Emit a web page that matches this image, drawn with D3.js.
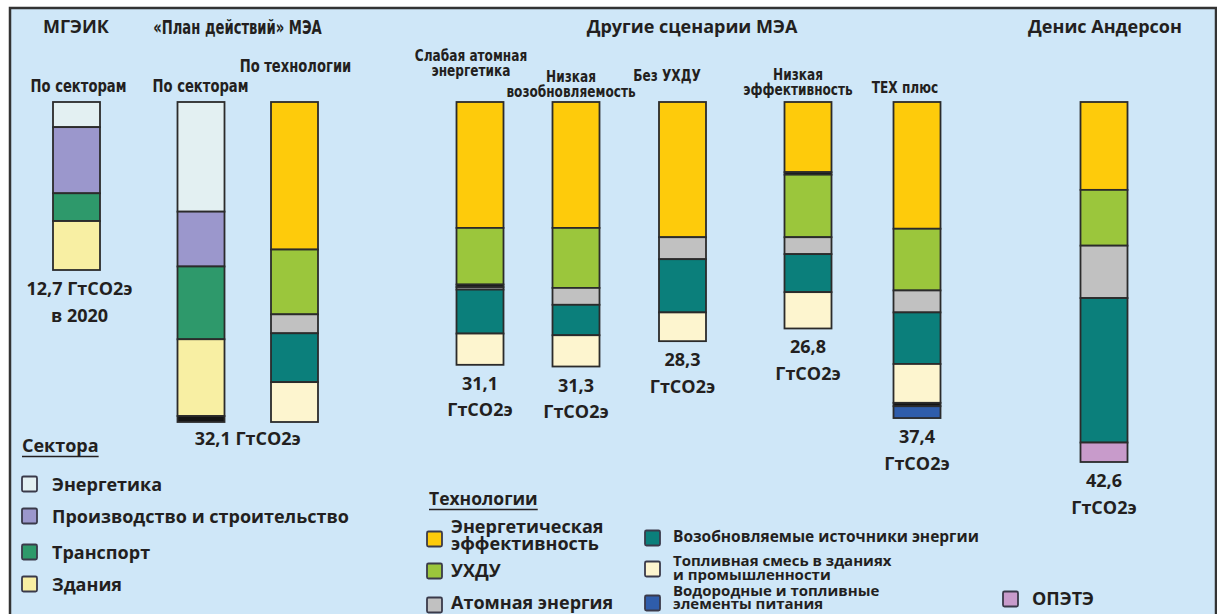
<!DOCTYPE html>
<html><head><meta charset="utf-8">
<script src="https://cdn.jsdelivr.net/npm/d3@7"></script>
<style>body{margin:0;background:#fff} svg{display:block}</style>
</head><body><div id="chart"></div>
<script>
// ================= DATA =================
const groupTitles = ["МГЭИК", "«План действий» МЭА", "Другие сценарии МЭА", "Денис Андерсон"];

const barIds = ["ipcc", "ieaSector", "ieaTech", "lowNuclear", "lowRenew", "noCCS", "lowEff", "texPlus", "anderson"];
const barGroups = ["ipcc", "ieaPlan", "ieaPlan", "other", "other", "other", "other", "other", "other"];
const barNames = [["По секторам"], ["По секторам"], ["По технологии"], ["Слабая атомная", "энергетика"],
  ["Низкая", "возобновляемость"], ["Без УХДУ"], ["Низкая", "эффективность"], ["ТЕХ плюс"], []];
const barTotals = [12.7, 32.1, 32.1, 31.1, 31.3, 28.3, 26.8, 37.4, 42.6];
const totalLabels = [["12,7 ГтCO2э", "в 2020"], [], [], ["31,1", "ГтCO2э"], ["31,3", "ГтCO2э"],
  ["28,3", "ГтCO2э"], ["26,8", "ГтCO2э"], ["37,4", "ГтCO2э"], ["42,6", "ГтCO2э"]];
const ieaPlanTotalLabel = ["32,1 ГтCO2э"];

// legend categories
const sectorKeys = ["energy", "industry", "transport", "buildings"];
const sectorNames = [["Энергетика"], ["Производство и строительство"], ["Транспорт"], ["Здания"]];
const techKeys = ["ee", "ccs", "nuc", "ren", "fuel", "h2"];
const techNames = [["Энергетическая", "эффективность"], ["УХДУ"], ["Атомная энергия"],
  ["Возобновляемые источники энергии"], ["Топливная смесь в зданиях", "и промышленности"],
  ["Водородные и топливные", "элементы питания"]];
const extraKeys = ["opete"];
const extraNames = [["ОПЭТЭ"]];
const sectorLegendTitle = "Сектора";
const techLegendTitle = "Технологии";

// stacked segments, top to bottom (GtCO2e) — "dark" = unlabelled black band
const ipccKeys = ["energy", "industry", "transport", "buildings"];
const ipccValues = [1.9, 5.0, 2.1, 3.7];
const ieaSectorKeys = ["energy", "industry", "transport", "buildings", "dark"];
const ieaSectorValues = [11.0, 5.5, 7.3, 7.7, 0.6];
const ieaTechKeys = ["ee", "ccs", "nuc", "ren", "fuel"];
const ieaTechValues = [14.8, 6.5, 1.9, 4.9, 4.0];
const lowNuclearKeys = ["ee", "ccs", "dark", "nuc", "ren", "fuel"];
const lowNuclearValues = [14.9, 6.7, 0.3, 0.3, 5.2, 3.7];
const lowRenewKeys = ["ee", "ccs", "nuc", "ren", "fuel"];
const lowRenewValues = [14.9, 7.1, 2.0, 3.6, 3.7];
const noCCSKeys = ["ee", "nuc", "ren", "fuel"];
const noCCSValues = [16.0, 2.6, 6.3, 3.4];
const lowEffKeys = ["ee", "dark", "ccs", "nuc", "ren", "fuel"];
const lowEffValues = [8.3, 0.3, 7.4, 2.0, 4.5, 4.3];
const texPlusKeys = ["ee", "ccs", "nuc", "ren", "fuel", "dark", "h2"];
const texPlusValues = [15.0, 7.3, 2.6, 6.1, 4.6, 0.4, 1.4];
const andersonKeys = ["ee", "ccs", "nuc", "ren", "opete"];
const andersonValues = [10.4, 6.6, 6.2, 17.1, 2.3];

const barKeys = [ipccKeys, ieaSectorKeys, ieaTechKeys, lowNuclearKeys, lowRenewKeys, noCCSKeys, lowEffKeys, texPlusKeys, andersonKeys];
const barValues = [ipccValues, ieaSectorValues, ieaTechValues, lowNuclearValues, lowRenewValues, noCCSValues, lowEffValues, texPlusValues, andersonValues];

// ================= STYLE / LAYOUT =================
const W = 1217, H = 614;
const colors = {
  energy: "#e3f0f2", industry: "#9b97cc", transport: "#2e996b", buildings: "#f8efa3", dark: "#141414",
  ee: "#fecb0b", ccs: "#9bc63c", nuc: "#c1c1c1", ren: "#0b7f7b", fuel: "#fdf5cf", h2: "#2f5dab", opete: "#c89bcb"
};
const ink = "#231f20";
const stroke = "#2b2b2b";
const bg = "#cfe7f8";
const barTop = 102, barW = 47;
const barCenters = [76.5, 201, 294.5, 480, 576, 682.5, 808, 917, 1104];
const xPos = d3.scaleOrdinal(barIds, barCenters);
const yScales = {
  ipcc: d3.scaleLinear().domain([0, 12.7]).range([0, 168]),
  ieaPlan: d3.scaleLinear().domain([0, 32.1]).range([0, 320]),
  other: d3.scaleLinear().domain([0, 42.6]).range([0, 360])
};
const fontMain = "'Open Sans', 'Noto Sans', sans-serif";
const fontNarrow = "'Liberation Sans Narrow', 'DejaVu Sans Condensed', sans-serif";

const svg = d3.select("#chart").append("svg").attr("width", W).attr("height", H);
svg.append("rect").attr("x", 10).attr("y", 8).attr("width", 1206).attr("height", 640)
  .attr("fill", bg).attr("stroke", "#333").attr("stroke-width", 2.5);

function lines(g, arr, x, y, lh, opts) {
  const holder = opts.sx ? g.append("g").attr("transform", `translate(${x},0) scale(${opts.sx},1) translate(${-x},0)`) : g;
  const t = holder.append("text").attr("x", x).attr("y", y).attr("fill", ink)
    .attr("font-family", opts.family).attr("font-size", opts.size).attr("font-weight", opts.weight)
    .attr("text-anchor", opts.anchor || "middle");
  arr.forEach((s, i) => t.append("tspan").attr("x", x).attr("y", y + i * lh).text(s));
  return t;
}

// group titles
lines(svg, [groupTitles[0]], 76, 33, 0, {family: fontMain, size: 18, weight: 700});
lines(svg, [groupTitles[1]], 237.5, 34, 0, {family: fontNarrow, size: 19, weight: 700, sx: 0.77});
lines(svg, [groupTitles[2]], 692, 33, 0, {family: fontMain, size: 18, weight: 700});
lines(svg, [groupTitles[3]], 1105, 33, 0, {family: fontMain, size: 18, weight: 700});

// bar name label layout (center x, first baseline)
const nameLayout = [[78.5, 92], [200.5, 92], [295.5, 72], [471, 61], [571, 82], [667, 81], [798, 80], [905, 93], [1104, 93]];
const nameOpts = {family: fontNarrow, size: 17, weight: 700, sx: 0.86};
const nameOptsSmall = {family: fontNarrow, size: 15.5, weight: 700, sx: 0.87};

const bars = svg.append("g");
barIds.forEach((id, i) => {
  const y = yScales[barGroups[i]];
  const vals = barValues[i];
  const ends = d3.cumsum(vals);
  const segs = vals.map((v, j) => ({key: barKeys[i][j], v, start: ends[j] - v}));
  const cx = xPos(id);
  const g = bars.append("g");
  g.selectAll("rect").data(segs).join("rect")
    .attr("x", cx - barW / 2)
    .attr("y", d => barTop + y(d.start))
    .attr("width", barW)
    .attr("height", d => y(d.v))
    .attr("fill", d => colors[d.key])
    .attr("stroke", stroke).attr("stroke-width", 1.8);
  const bottom = barTop + y(barTotals[i]);
  if (totalLabels[i].length)
    lines(svg, totalLabels[i], cx + (i === 0 ? 3 : 0), bottom + 25, 26.5, {family: fontMain, size: 18, weight: 700});
  if (barNames[i].length) {
    const o = (i >= 3) ? nameOptsSmall : nameOpts;
    lines(svg, barNames[i], nameLayout[i][0], nameLayout[i][1], 15.5, o);
  }
});
// IEA plan total label, centred between its two bars
{
  const cx = (xPos("ieaSector") + xPos("ieaTech")) / 2;
  const bottom = barTop + yScales.ieaPlan(32.1);
  lines(svg, ieaPlanTotalLabel, cx, bottom + 23, 0, {family: fontMain, size: 18, weight: 700});
}

// ---- legends ----
function swatch(g, key, x, y, s) {
  g.append("rect").attr("x", x).attr("y", y).attr("width", s).attr("height", s).attr("rx", 1.5)
    .attr("fill", colors[key]).attr("stroke", "#3a3a4a").attr("stroke-width", 1.8);
}
function heading(g, txt, x, y, size) {
  const t = g.append("text").attr("x", x).attr("y", y).attr("fill", ink)
    .attr("font-family", fontMain).attr("font-size", size).attr("font-weight", 700).text(txt);
  const w = t.node().getComputedTextLength();
  g.append("line").attr("x1", x).attr("x2", x + w).attr("y1", y + 4.5).attr("y2", y + 4.5)
    .attr("stroke", ink).attr("stroke-width", 1.3);
}
const leg = svg.append("g");
heading(leg, sectorLegendTitle, 22, 452, 18);
const sectorRowY = [484, 516, 552, 584];
sectorKeys.forEach((k, i) => {
  swatch(leg, k, 22, sectorRowY[i] - 7.5, 15);
  lines(leg, sectorNames[i], 52, sectorRowY[i] + 6.5, 0, {family: fontMain, size: 18, weight: 700, anchor: "start"});
});

heading(leg, techLegendTitle, 429, 505, 17.5);
// tech legend layout: [swatch x, swatch centre y, text x, first baseline, line height, size]
const techLayout = [
  [427, 539, 451, 533, 16.5, 18],
  [427, 571, 451, 577, 0, 18],
  [427, 605, 451, 609, 0, 18],
  [645, 538, 673, 542, 0, 15.5],
  [645, 569, 673, 566, 13.5, 15],
  [645, 603, 673, 596, 12.5, 15]
];
techKeys.forEach((k, i) => {
  const L = techLayout[i];
  swatch(leg, k, L[0], L[1] - 7.5, 15);
  lines(leg, techNames[i], L[2], L[3], L[4], {family: fontMain, size: L[5], weight: 700, anchor: "start"});
});
extraKeys.forEach((k, i) => {
  swatch(leg, k, 1003, 599 - 7.5, 15);
  lines(leg, extraNames[i], 1032, 605, 0, {family: fontMain, size: 18, weight: 700, anchor: "start"});
});
</script>
</body></html>
